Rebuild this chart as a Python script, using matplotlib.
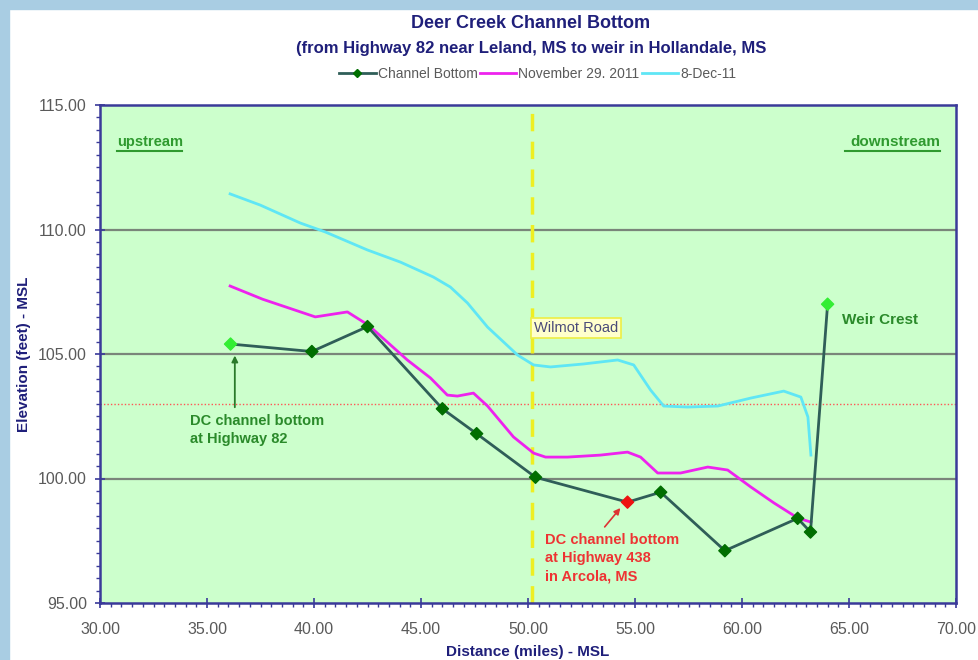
import matplotlib
matplotlib.use("Agg")
import matplotlib.pyplot as plt
from matplotlib.patches import Rectangle
from matplotlib.ticker import MultipleLocator, FormatStrFormatter

plt.rcParams['font.family'] = ['Liberation Sans', 'DejaVu Sans']

# ---- data ----
chan_x = [36.1, 39.9, 42.5, 46.0, 47.6, 50.35, 54.65, 56.2, 59.2, 62.6, 63.2, 64.0]
chan_y = [105.4, 105.1, 106.1, 102.8, 101.8, 100.05, 99.05, 99.45, 97.1, 98.4, 97.85, 107.0]

nov_x = [36.08, 37.6, 40.06, 41.56, 42.54, 44.36, 45.44, 46.23, 46.70, 47.45, 48.11, 49.32,
         50.26, 50.82, 51.85, 53.39, 54.65, 55.26, 56.06, 57.13, 58.40, 59.33, 60.41,
         61.49, 62.61, 63.22]
nov_y = [107.73, 107.2, 106.49, 106.69, 106.16, 104.76, 104.04, 103.35, 103.31, 103.43, 102.91, 101.67,
         101.02, 100.86, 100.86, 100.94, 101.06, 100.86, 100.22, 100.22, 100.46, 100.34, 99.66,
         99.02, 98.41, 98.25]

dec_x = [36.08, 37.49, 39.36, 40.53, 42.49, 44.04, 45.58, 46.37, 47.17, 48.11, 49.51, 50.26,
         51.05, 52.60, 54.19, 54.94, 55.73, 56.34, 57.46, 58.87, 60.41, 61.95, 62.75, 63.08, 63.22]
dec_y = [111.43, 110.98, 110.26, 109.90, 109.18, 108.69, 108.09, 107.69, 107.05, 106.08, 104.96, 104.56,
         104.48, 104.60, 104.76, 104.56, 103.55, 102.91, 102.87, 102.91, 103.23, 103.51, 103.27, 102.47, 100.94]

ref_level = 103.0
wilmot_x = 50.2
x_ticks = [30, 35, 40, 45, 50, 55, 60, 65, 70]
y_ticks = [95, 100, 105, 110, 115]

navy = '#1f1f7a'
green_txt = '#2a8a2a'

fig = plt.figure(figsize=(9.79, 6.6), dpi=100)
fig.patch.set_facecolor('white')
# light blue frame strips (screenshot background)
fig.patches.append(Rectangle((0, 0), 9/979, 1, transform=fig.transFigure,
                             color='#a9cde3', zorder=0))
fig.patches.append(Rectangle((0, 1-9/660), 1, 9/660, transform=fig.transFigure,
                             color='#a9cde3', zorder=0))

ax = fig.add_axes([100/979, 1-603/660, 856/979, 498/660])
ax.set_facecolor('#ccffcc')
ax.set_xlim(30, 70)
ax.set_ylim(95, 115)

for yv in [100, 105, 110]:
    ax.axhline(yv, color='#7a857a', lw=1.6, zorder=1)
ax.axhline(ref_level, color='#ff5555', lw=1.0, ls=(0, (1, 1.5)), zorder=1)
ax.axvline(wilmot_x, color='#eeee22', lw=2.5, ls=(0, (5, 3)), zorder=2)

ax.plot(dec_x, dec_y, color='#5fe6f5', lw=2.0, zorder=3)
ax.plot(nov_x, nov_y, color='#ee22ee', lw=2.0, zorder=3)
ax.plot(chan_x, chan_y, color='#2f5e58', lw=2.0, zorder=4)

mcolors = ['#006e00'] * len(chan_x)
mcolors[0] = '#33ee33'
mcolors[-1] = '#33ee33'
mcolors[6] = '#ee1111'
ax.scatter(chan_x, chan_y, marker='D', s=38, c=mcolors, edgecolors=mcolors, zorder=5)

# legend
h_chan, = ax.plot([], [], color='#2f5e58', lw=2.0, marker='D', ms=4,
                  mfc='#006e00', mec='#006e00')
h_nov, = ax.plot([], [], color='#ee22ee', lw=2.0)
h_dec, = ax.plot([], [], color='#5fe6f5', lw=2.0)
leg = fig.legend([h_chan, h_nov, h_dec], ['Channel Bottom', 'November 29. 2011', '8-Dec-11'],
                 loc='center', bbox_to_anchor=(538/979, 1-74/660), ncol=3, frameon=False,
                 fontsize=10, handlelength=2.6, handletextpad=0.15, columnspacing=0.2)
for t in leg.get_texts():
    t.set_color('#5a5a5a')

# titles
fig.text(531/979, 1-23/660, 'Deer Creek Channel Bottom', ha='center', va='center',
         fontsize=13, fontweight='bold', color=navy)
fig.text(531/979, 1-48/660, '(from Highway 82 near Leland, MS to weir in Hollandale, MS',
         ha='center', va='center', fontsize=12, fontweight='bold', color=navy)

# axes styling
for s in ax.spines.values():
    s.set_color('#3a3a99')
    s.set_linewidth(1.8)
ax.set_xticks(x_ticks)
ax.set_yticks(y_ticks)
ax.xaxis.set_minor_locator(MultipleLocator(0.5))
ax.yaxis.set_minor_locator(MultipleLocator(0.5))
ax.xaxis.set_major_formatter(FormatStrFormatter('%.2f'))
ax.yaxis.set_major_formatter(FormatStrFormatter('%.2f'))
ax.tick_params(which='major', direction='inout', length=7, width=1.2, color='#3a3a99',
               labelsize=11.5, labelcolor='#5a5a5a', pad=6)
ax.tick_params(axis='x', which='major', pad=10)
ax.tick_params(which='minor', direction='out', length=3, width=1.0, color='#3a3a99')
ax.set_xlabel('Distance (miles) - MSL', fontsize=11, fontweight='bold', color=navy)
ax.set_ylabel('Elevation (feet) - MSL', fontsize=11, fontweight='bold', color=navy)
ax.xaxis.set_label_coords(0.5, -(652 - 603) / 498)
ax.yaxis.set_label_coords((24 - 100) / 856, 0.5)
ax.xaxis.label.set_va('center')
ax.yaxis.label.set_va('center')

# upstream / downstream labels with underline
ul_y = 1 - (151 - 105) / 498
ax.text(0.0198, 1-(142-105)/498, 'upstream', transform=ax.transAxes,
        ha='left', va='center', fontsize=10.5, fontweight='bold', color='#2f9a2f')
ax.plot([0.0198, (182-100)/856], [ul_y]*2, transform=ax.transAxes,
        color='#2f9a2f', lw=1.5, zorder=6)
ax.text((940-100)/856, 1-(142-105)/498, 'downstream', transform=ax.transAxes,
        ha='right', va='center', fontsize=11, fontweight='bold', color='#2f9a2f')
ax.plot([(845-100)/856, (940-100)/856], [ul_y]*2, transform=ax.transAxes,
        color='#2f9a2f', lw=1.5, zorder=6)

# Wilmot Road
ax.text(50.28, 106.04, 'Wilmot Road', ha='left', va='center', fontsize=10.5, color='#4a4a7a',
        bbox=dict(boxstyle='square,pad=0.2', fc='#ffffcc', ec='#eeee44', lw=1.2), zorder=7)

# Weir Crest
ax.text(64.67, 106.37, 'Weir Crest', ha='left', va='center', fontsize=11,
        fontweight='bold', color=green_txt)

# DC channel bottom at Highway 82
ax.annotate('', xy=(36.3, 105.05), xytext=(36.3, 102.75),
            arrowprops=dict(arrowstyle='-|>', color='#2a7a2a', lw=1.3, mutation_scale=9))
ax.text(34.22, 102.6, 'DC channel bottom\nat Highway 82', ha='left', va='top',
        fontsize=10.5, fontweight='bold', color=green_txt, linespacing=1.38)

# DC channel bottom at Highway 438
ax.annotate('', xy=(54.4, 98.9), xytext=(53.5, 97.97),
            arrowprops=dict(arrowstyle='-|>', color='#dd3333', lw=1.2, mutation_scale=9))
ax.text(50.79, 97.82, 'DC channel bottom\nat Highway 438\nin Arcola, MS', ha='left', va='top',
        fontsize=10.5, fontweight='bold', color='#ee3333', linespacing=1.4)

fig.savefig('out.png', dpi=100)
